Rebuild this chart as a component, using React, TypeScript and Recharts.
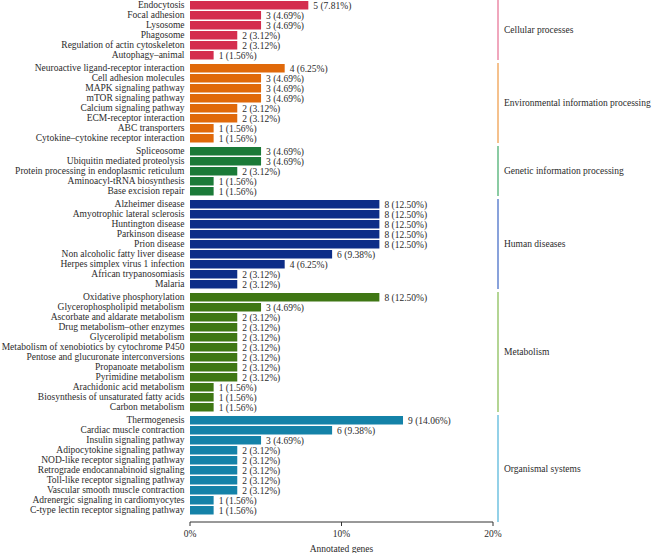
import React from "react";
import {
  BarChart, Bar, XAxis, YAxis, LabelList, ReferenceLine,
} from "recharts";

const FONT = "'Liberation Serif', 'DejaVu Serif', serif";
const TEXT = "#2b2b2b";

// one row = 10px, groups separated by a small gap
const ROW = 10;
const GAP = 3;
const WIDTH = 654;
const LINE_X = 20.33; // group bracket sits just right of the 20% tick

const groupNames = [
  "Cellular processes",
  "Environmental information processing",
  "Genetic information processing",
  "Human diseases",
  "Metabolism",
  "Organismal systems",
];
const barColors = ["#d42d4e", "#e0690a", "#1b7a38", "#0d2d88", "#3f7714", "#1482a8"];
const lineColors = ["#e8789a", "#f0a050", "#4caf72", "#4a70c8", "#8bbf5a", "#5ab8dc"];

const cellularNames = [
  "Endocytosis", "Focal adhesion", "Lysosome", "Phagosome",
  "Regulation of actin cytoskeleton", "Autophagy–animal",
];
const cellularCounts = [5, 3, 3, 2, 2, 1];
const cellularPcts = [7.81, 4.69, 4.69, 3.12, 3.12, 1.56];

const envNames = [
  "Neuroactive ligand-receptor interaction", "Cell adhesion molecules",
  "MAPK signaling pathway", "mTOR signaling pathway", "Calcium signaling pathway",
  "ECM-receptor interaction", "ABC transporters", "Cytokine–cytokine receptor interaction",
];
const envCounts = [4, 3, 3, 3, 2, 2, 1, 1];
const envPcts = [6.25, 4.69, 4.69, 4.69, 3.12, 3.12, 1.56, 1.56];

const geneticNames = [
  "Spliceosome", "Ubiquitin mediated proteolysis",
  "Protein processing in endoplasmic reticulum", "Aminoacyl-tRNA biosynthesis",
  "Base excision repair",
];
const geneticCounts = [3, 3, 2, 1, 1];
const geneticPcts = [4.69, 4.69, 3.12, 1.56, 1.56];

const humanNames = [
  "Alzheimer disease", "Amyotrophic lateral sclerosis", "Huntington disease",
  "Parkinson disease", "Prion disease", "Non alcoholic fatty liver disease",
  "Herpes simplex virus 1 infection", "African trypanosomiasis", "Malaria",
];
const humanCounts = [8, 8, 8, 8, 8, 6, 4, 2, 2];
const humanPcts = [12.5, 12.5, 12.5, 12.5, 12.5, 9.38, 6.25, 3.12, 3.12];

const metabolismNames = [
  "Oxidative phosphorylation", "Glycerophospholipid metabolism",
  "Ascorbate and aldarate metabolism", "Drug metabolism–other enzymes",
  "Glycerolipid metabolism", "Metabolism of xenobiotics by cytochrome P450",
  "Pentose and glucuronate interconversions", "Propanoate metabolism",
  "Pyrimidine metabolism", "Arachidonic acid metabolism",
  "Biosynthesis of unsaturated fatty acids", "Carbon metabolism",
];
const metabolismCounts = [8, 3, 2, 2, 2, 2, 2, 2, 2, 1, 1, 1];
const metabolismPcts = [12.5, 4.69, 3.12, 3.12, 3.12, 3.12, 3.12, 3.12, 3.12, 1.56, 1.56, 1.56];

const organismalNames = [
  "Thermogenesis", "Cardiac muscle contraction", "Insulin signaling pathway",
  "Adipocytokine signaling pathway", "NOD-like receptor signaling pathway",
  "Retrograde endocannabinoid signaling", "Toll-like receptor signaling pathway",
  "Vascular smooth muscle contraction", "Adrenergic signaling in cardiomyocytes",
  "C-type lectin receptor signaling pathway",
];
const organismalCounts = [9, 6, 3, 2, 2, 2, 2, 2, 1, 1];
const organismalPcts = [14.06, 9.38, 4.69, 3.12, 3.12, 3.12, 3.12, 3.12, 1.56, 1.56];

const xTicks = [0, 10, 20];

const groupRows = [
  [cellularNames, cellularCounts, cellularPcts],
  [envNames, envCounts, envPcts],
  [geneticNames, geneticCounts, geneticPcts],
  [humanNames, humanCounts, humanPcts],
  [metabolismNames, metabolismCounts, metabolismPcts],
  [organismalNames, organismalCounts, organismalPcts],
] as const;

interface Row { name: string; pct: number; label: string }

const groups = groupRows.map(([names, counts, pcts], gi) => ({
  title: groupNames[gi],
  bar: barColors[gi],
  line: lineColors[gi],
  rows: names.map((n, i): Row => ({
    name: n,
    pct: pcts[i],
    label: `${counts[i]} (${pcts[i].toFixed(2)}%)`,
  })),
}));

const FS = 9.5;
const tickStyle = { fontSize: FS, fill: TEXT, fontFamily: FONT };

// plain <text> so long pathway names don't get wrapped
const NameTick = ({ x, y, payload }: { x?: number; y?: number; payload?: { value: string } }) => (
  <text x={x} y={y} dy="0.355em" textAnchor="end" fontSize={FS} fill={TEXT} fontFamily={FONT}>
    {payload?.value}
  </text>
);

function GroupChart({ group, last }: { group: (typeof groups)[number]; last: boolean }) {
  const axisPad = last ? 7 : 0;
  const axisH = 31;
  const height = group.rows.length * ROW + axisPad + (last ? axisH : GAP);
  return (
    <BarChart
      width={WIDTH}
      height={height}
      data={group.rows}
      layout="vertical"
      margin={{ top: 0, right: WIDTH - 493, bottom: last ? 0 : GAP, left: 0 }}
      style={{ display: "block" }}
    >
      <XAxis
        type="number"
        domain={[0, 20]}
        ticks={xTicks}
        hide={!last}
        height={axisH}
        tickFormatter={(v) => `${v}%`}
        tick={tickStyle}
        tickSize={4}
        tickMargin={4}
        stroke="#333"
        label={{ value: "Annotated genes", position: "insideBottom", offset: 1, ...tickStyle }}
      />
      <YAxis
        type="category"
        dataKey="name"
        width={190}
        interval={0}
        tickLine={false}
        axisLine={false}
        tickSize={0}
        tickMargin={5.5}
        padding={{ top: 0, bottom: axisPad }}
        tick={<NameTick />}
      />
      <ReferenceLine
        x={LINE_X}
        ifOverflow="visible"
        stroke={group.line}
        strokeWidth={1.3}
        label={{ value: group.title, position: "right", offset: 6, ...tickStyle }}
      />
      <Bar dataKey="pct" fill={group.bar} barSize={8.5} isAnimationActive={false}>
        <LabelList dataKey="label" position="right" offset={5} style={tickStyle} />
      </Bar>
    </BarChart>
  );
}

export default function App() {
  return (
    <div style={{ position: "absolute", left: 0, top: 0, width: WIDTH, height: 555, background: "#fff" }}>
      {groups.map((g, i) => (
        <GroupChart key={g.title} group={g} last={i === groups.length - 1} />
      ))}
    </div>
  );
}
